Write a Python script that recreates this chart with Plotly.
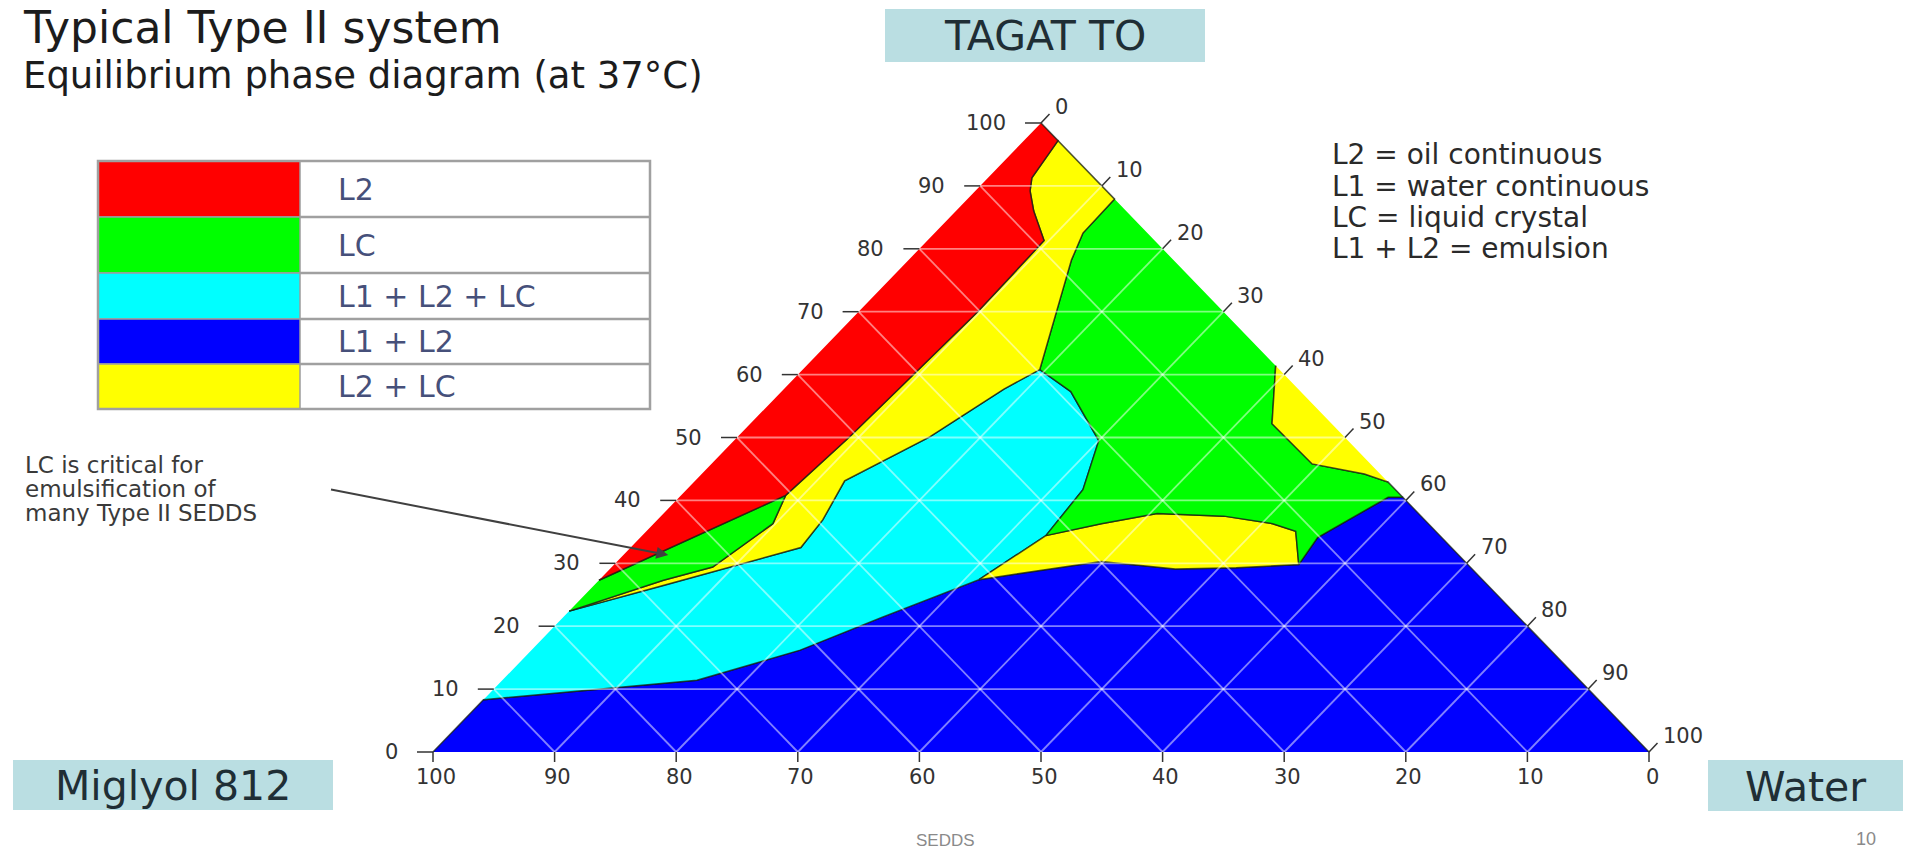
import plotly.graph_objects as go

# ---------------- data ----------------
tick_values = [0, 10, 20, 30, 40, 50, 60, 70, 80, 90, 100]
phase_names = ["L2", "LC", "L1 + L2 + LC", "L1 + L2", "L2 + LC"]
phase_colors = ["#ff0000", "#00ff00", "#00ffff", "#0000ff", "#ffff00"]
notes = ["L2 = oil continuous", "L1 = water continuous",
         "LC = liquid crystal", "L1 + L2 = emulsion"]
callout_lines = ["LC is critical for", "emulsification of", "many Type II SEDDS"]
callout_T, callout_W = 31.3, 3.7

# Phase boundaries: T = TAGAT TO %, W = Water %, Miglyol 812 = 100 - T - W
blue_cyan_T = [8.3, 11.4, 16.2, 21.4, 27.4]
blue_cyan_W = [0.0, 16.0, 22.1, 26.2, 31.2]

blue_ylow_T = [27.4, 28.9, 30.3, 29.1, 29.3, 29.8]
blue_ylow_W = [31.2, 35.5, 39.8, 46.5, 51.4, 56.3]

blue_green_T = [29.8, 34.1, 40.5, 40.5]
blue_green_W = [56.3, 55.7, 58.3, 59.5]

ylow_top_T = [27.4, 34.4, 36.3, 37.9, 37.5, 36.3, 35.1, 29.8]
ylow_top_W = [31.2, 33.2, 36.8, 40.6, 46.3, 50.9, 53.4, 56.3]

cyan_green_T = [34.4, 41.7, 49.5, 57.3, 60.8]
cyan_green_W = [33.2, 32.6, 30.0, 23.8, 19.5]

cyan_top_T = [22.4, 26.5, 32.5, 36.9, 43.1, 50.1, 57.7, 60.8]
cyan_top_W = [0.0, 5.8, 14.0, 13.6, 12.3, 15.8, 18.1, 19.5]

gstrip_low_T = [22.4, 27.3, 29.4, 36.3, 40.8]
gstrip_low_W = [0.0, 5.3, 8.3, 9.8, 8.6]

red_gstrip_T = [27.3, 34.0, 40.8]
red_gstrip_W = [0.0, 4.2, 8.6]

red_yellow_T = [40.8, 50.0, 60.0, 70.0, 81.3, 82.9, 86.0, 89.2, 91.3, 97.2]
red_yellow_W = [8.6, 9.2, 9.5, 9.8, 9.6, 8.5, 6.4, 4.5, 3.6, 2.8]

yup_green_T = [60.8, 67.0, 72.2, 78.2, 82.5, 87.9]
yup_green_W = [19.5, 17.3, 15.5, 13.4, 12.2, 12.1]

yright_T = [61.4, 52.2, 45.8, 44.2, 42.9]
yright_W = [38.6, 42.9, 49.4, 54.5, 57.1]

# ---------------- layout geometry (pixels) ----------------
FIG_W, FIG_H = 1918, 849
TRI_L, TRI_R, TRI_B, TRI_T = 433, 1649, 752, 123
SX = TRI_R - TRI_L
SY = TRI_B - TRI_T


def to_xy(T, W):
    return (W + T / 2.0) / 100.0, T / 100.0


def px(x):
    return x / FIG_W


def py(y):
    return 1 - y / FIG_H


def seg(T, W):
    return list(zip(T, W))


def rev(T, W):
    return list(zip(T, W))[::-1]


fig = go.Figure()


def poly(points, color):
    xs, ys = zip(*[to_xy(t, w) for t, w in points])
    fig.add_trace(go.Scatter(
        x=list(xs), y=list(ys), mode="lines", fill="toself", fillcolor=color,
        line=dict(color="rgba(20,30,20,0.75)", width=1.5),
        hoverinfo="skip", showlegend=False))


RED, GREEN, CYAN, BLUE, YELLOW = phase_colors

blue_poly = [(0, 0)] + seg(blue_cyan_T, blue_cyan_W) + seg(blue_ylow_T, blue_ylow_W) \
    + seg(blue_green_T, blue_green_W) + [(0, 100)]
cyan_poly = seg(cyan_top_T, cyan_top_W) + rev(cyan_green_T, cyan_green_W) + rev(blue_cyan_T, blue_cyan_W)
ylow_poly = seg(ylow_top_T, ylow_top_W) + rev(blue_ylow_T, blue_ylow_W)
green_poly = seg(yright_T, yright_W) + rev(blue_green_T, blue_green_W) \
    + rev(ylow_top_T, ylow_top_W)[:-1] + seg(cyan_green_T, cyan_green_W) + seg(yup_green_T, yup_green_W)
yright_poly = seg(yright_T, yright_W)
yup_poly = seg(red_yellow_T, red_yellow_W) + rev(yup_green_T, yup_green_W) \
    + rev(cyan_top_T, cyan_top_W) + seg(gstrip_low_T, gstrip_low_W)
gstrip_poly = seg(red_gstrip_T, red_gstrip_W) + rev(gstrip_low_T, gstrip_low_W)
red_poly = [(100, 0)] + rev(red_yellow_T, red_yellow_W) + rev(red_gstrip_T, red_gstrip_W)

poly(blue_poly, BLUE)
poly(cyan_poly, CYAN)
poly(ylow_poly, YELLOW)
poly(green_poly, GREEN)
poly(yright_poly, YELLOW)
poly(yup_poly, YELLOW)
poly(gstrip_poly, GREEN)
poly(red_poly, RED)

# grid lines
gx, gy = [], []
for v in tick_values[1:-1]:
    for a, b in [((v, 0), (v, 100 - v)), ((0, v), (100 - v, v)), ((0, 100 - v), (100 - v, 0))]:
        x1, y1 = to_xy(*a)
        x2, y2 = to_xy(*b)
        gx += [x1, x2, None]
        gy += [y1, y2, None]
fig.add_trace(go.Scatter(x=gx, y=gy, mode="lines", line=dict(color="rgba(255,255,255,0.5)", width=1.8),
                         hoverinfo="skip", showlegend=False))

# ticks
tx, ty = [], []
for v in tick_values:
    x, y = to_xy(v, 0)                       # left axis: TAGAT TO
    tx += [x, x - 16 / SX, None]
    ty += [y, y, None]
    x, y = to_xy(100 - v, v)                 # right axis: Water
    tx += [x, x + 8.5 / SX, None]
    ty += [y, y + 9 / SY, None]
    x, y = to_xy(0, 100 - v)                 # bottom axis: Miglyol 812
    tx += [x, x, None]
    ty += [y, y - 10 / SY, None]
fig.add_trace(go.Scatter(x=tx, y=ty, mode="lines", line=dict(color="#333333", width=1.5),
                         hoverinfo="skip", showlegend=False))

annotations = []
tick_font = dict(family="DejaVu Sans", size=21, color="#333333")
for v in tick_values:
    x, y = to_xy(v, 0)
    annotations.append(dict(x=x, y=y, xref="x", yref="y", text=str(v), showarrow=False,
                            xanchor="right", yanchor="middle", xshift=-33, font=tick_font))
    x, y = to_xy(100 - v, v)
    annotations.append(dict(x=x, y=y, xref="x", yref="y", text=str(v), showarrow=False,
                            xanchor="left", yanchor="middle", xshift=12, yshift=16, font=tick_font))
    x, y = to_xy(0, 100 - v)
    annotations.append(dict(x=x, y=y, xref="x", yref="y", text=str(v), showarrow=False,
                            xanchor="center", yanchor="middle", xshift=3, yshift=-25, font=tick_font))

shapes = []
# component name boxes
BOX_FILL = "#badee2"
for (x0, y0, x1, y1, label) in [(885, 9, 1205, 62, "TAGAT TO"),
                                 (13, 760, 333, 810, "Miglyol 812"),
                                 (1708, 760, 1903, 811, "Water")]:
    shapes.append(dict(type="rect", xref="paper", yref="paper", x0=px(x0), x1=px(x1), y0=py(y1), y1=py(y0),
                       fillcolor=BOX_FILL, line=dict(width=0), layer="below"))
    annotations.append(dict(x=px((x0 + x1) / 2), y=py((y0 + y1) / 2 + 1), xref="paper", yref="paper",
                            text=label, showarrow=False, xanchor="center", yanchor="middle",
                            font=dict(family="DejaVu Sans", size=41, color="#1f2e35")))

# legend table
TL, TR, TS = 98, 650, 300
row_edges = [161, 217, 273, 319, 364, 409]
for i, (name, col) in enumerate(zip(phase_names, phase_colors)):
    r0, r1 = row_edges[i], row_edges[i + 1]
    shapes.append(dict(type="rect", xref="paper", yref="paper", x0=px(TL), x1=px(TS), y0=py(r1), y1=py(r0),
                       fillcolor=col, line=dict(color="#9c9c9c", width=1.5)))
    annotations.append(dict(x=px(336), y=py((r0 + r1) / 2), xref="paper", yref="paper", text=name,
                            showarrow=False, xanchor="left", yanchor="middle",
                            font=dict(family="DejaVu Sans", size=30, color="#46507a")))
for r in row_edges[1:-1]:
    shapes.append(dict(type="line", xref="paper", yref="paper", x0=px(TS), x1=px(TR), y0=py(r), y1=py(r),
                       line=dict(color="#a0a0a0", width=2.5)))
shapes.append(dict(type="rect", xref="paper", yref="paper", x0=px(TL), x1=px(TR),
                   y0=py(row_edges[-1]), y1=py(row_edges[0]), line=dict(color="#a0a0a0", width=2.5)))

# titles
annotations.append(dict(x=px(22), y=py(27), xref="paper", yref="paper", text="Typical Type II system",
                        showarrow=False, xanchor="left", yanchor="middle", borderpad=0,
                        font=dict(family="DejaVu Sans", size=44, color="#1c1c1c")))
annotations.append(dict(x=px(22), y=py(76), xref="paper", yref="paper",
                        text="Equilibrium phase diagram (at 37°C)",
                        showarrow=False, xanchor="left", yanchor="middle", borderpad=0,
                        font=dict(family="DejaVu Sans", size=37, color="#1c1c1c")))

# definitions on the right
for i, line in enumerate(notes):
    annotations.append(dict(x=px(1331), y=py(155 + 31 * i), xref="paper", yref="paper", text=line,
                            showarrow=False, xanchor="left", yanchor="middle", borderpad=0,
                            font=dict(family="DejaVu Sans", size=28, color="#2a2a2a")))

# callout
for i, line in enumerate(callout_lines):
    annotations.append(dict(x=px(24), y=py(465 + 24 * i), xref="paper", yref="paper", text=line,
                            showarrow=False, xanchor="left", yanchor="middle", borderpad=0,
                            font=dict(family="DejaVu Sans", size=23, color="#3a3a3a")))
cx, cy = to_xy(callout_T, callout_W)
tip_px = TRI_L + cx * SX
tip_py = TRI_B - cy * SY
annotations.append(dict(x=cx, y=cy, xref="x", yref="y", text=" ", showarrow=True,
                        ax=328 - tip_px, ay=489 - tip_py, arrowhead=2, arrowsize=1.2,
                        arrowwidth=2, arrowcolor="#404040"))

# footer
annotations.append(dict(x=px(945), y=py(840), xref="paper", yref="paper", text="SEDDS", showarrow=False,
                        xanchor="center", yanchor="middle",
                        font=dict(family="Liberation Sans", size=17, color="#8a8a8a")))
annotations.append(dict(x=px(1866), y=py(839), xref="paper", yref="paper", text="10", showarrow=False,
                        xanchor="center", yanchor="middle",
                        font=dict(family="Liberation Sans", size=18, color="#8a8a8a")))

fig.update_layout(
    width=FIG_W, height=FIG_H, margin=dict(l=0, r=0, t=0, b=0),
    paper_bgcolor="white", plot_bgcolor="white",
    xaxis=dict(range=[-TRI_L / SX, (FIG_W - TRI_L) / SX], visible=False, fixedrange=True),
    yaxis=dict(range=[-(FIG_H - TRI_B) / SY, TRI_B / SY], visible=False, fixedrange=True),
    shapes=shapes, annotations=annotations, showlegend=False,
)

fig.write_html("out.html", config={"displayModeBar": False},
               post_script="document.body.style.margin='0px';document.body.style.overflow='hidden';")
